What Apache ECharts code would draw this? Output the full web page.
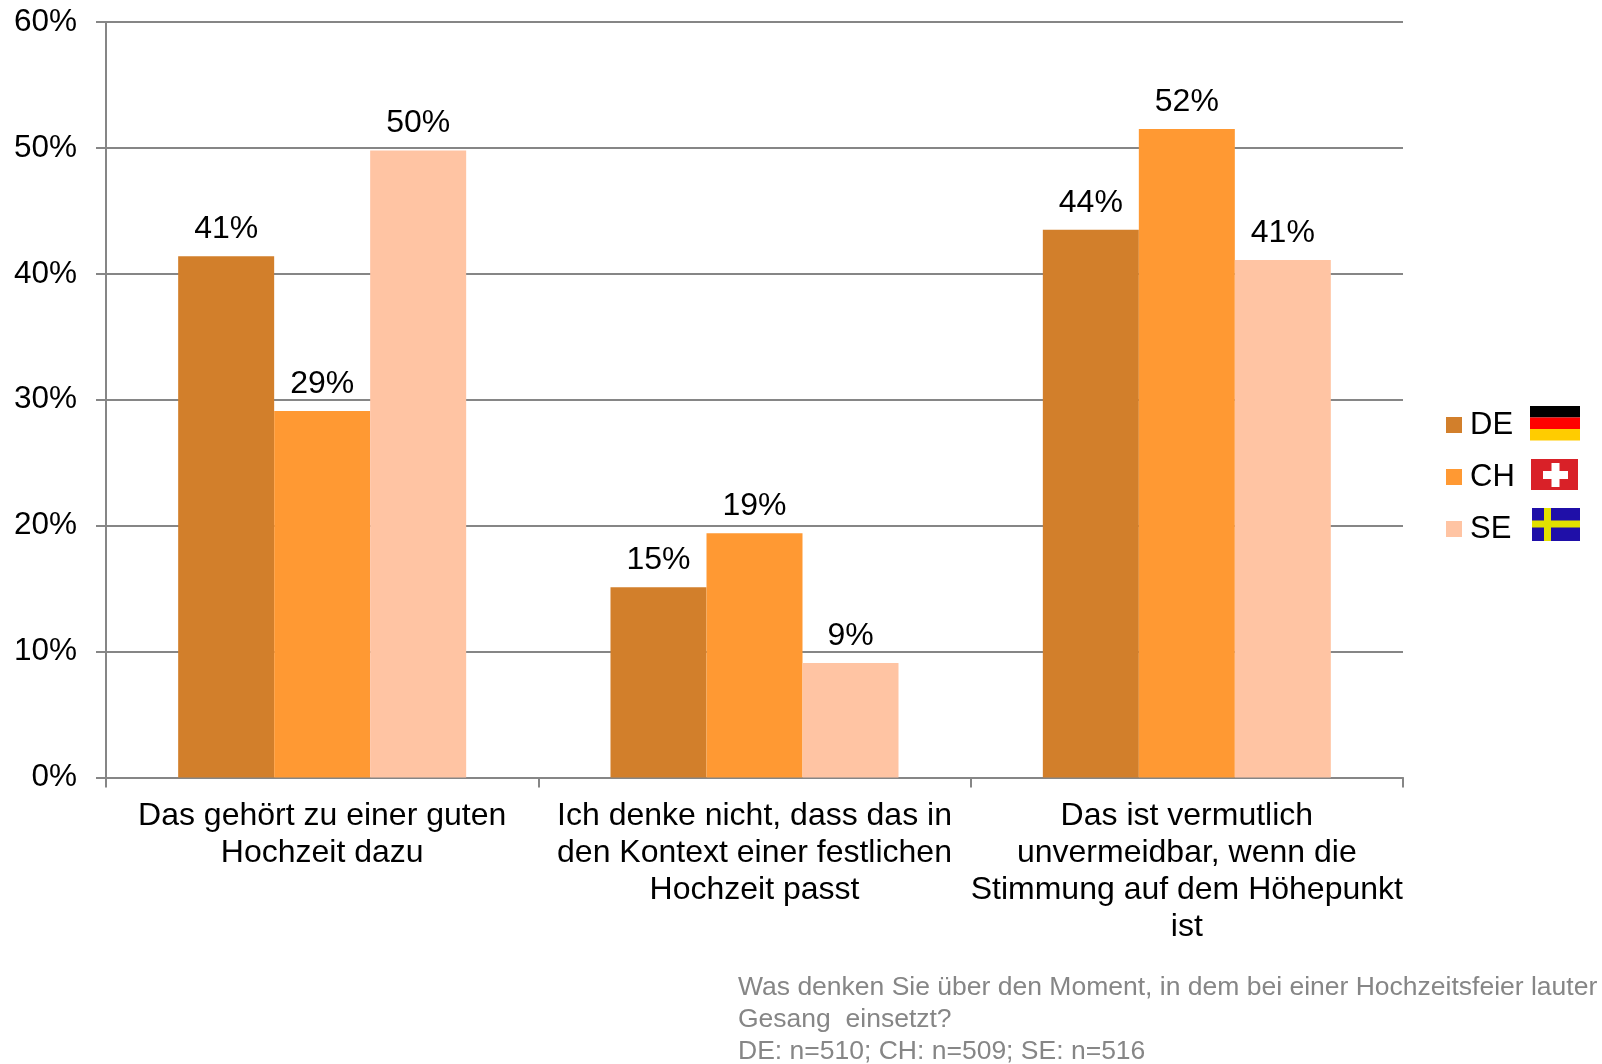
<!DOCTYPE html>
<html><head><meta charset="utf-8">
<style>html,body{margin:0;padding:0;background:#fff}#c{width:1602px;height:1064px}</style>
<script src="https://cdn.jsdelivr.net/npm/echarts@6/dist/echarts.min.js"></script>
</head><body><div id="c"></div>
<script>
const categories = [
  "Das gehört zu einer guten\nHochzeit dazu",
  "Ich denke nicht, dass das in\nden Kontext einer festlichen\nHochzeit passt",
  "Das ist vermutlich\nunvermeidbar, wenn die\nStimmung auf dem Höhepunkt\nist"
];
const seriesNames = ["DE", "CH", "SE"];
const de = [41.4, 15.1, 43.5];
const ch = [29.1, 19.4, 51.5];
const se = [49.8, 9.1, 41.1];
const colors = ["#D27F2B", "#FF9933", "#FFC4A3"];
const yTicks = { min: 0, max: 60, interval: 10 };
const footnote = "Was denken Sie über den Moment, in dem bei einer Hochzeitsfeier lauter\nGesang  einsetzt?\nDE: n=510; CH: n=509; SE: n=516";

const FONT = '"Liberation Sans", Arial, sans-serif';
const AXIS = '#868686';
const values = [de, ch, se];

function rect(x, y, w, h, fill) {
  return { type: 'rect', silent: true, shape: { x, y, width: w, height: h }, style: { fill } };
}
const flags = [
  rect(1530, 406, 50, 11.5, '#000000'),
  rect(1530, 417.5, 50, 11.5, '#FF0000'),
  rect(1530, 429, 50, 11.5, '#FFCC00'),
  rect(1531, 459, 47, 31, '#D92128'),
  rect(1543, 471, 25, 8, '#FFFFFF'),
  rect(1551.5, 463, 8, 24, '#FFFFFF'),
  rect(1532, 508, 48, 33, '#1F0FA8'),
  rect(1544, 508, 7, 33, '#E2E000'),
  rect(1532, 520.5, 48, 7, '#E2E000')
];

const chart = echarts.init(document.getElementById('c'), null, { renderer: 'canvas' });
chart.setOption({
  animation: false,
  backgroundColor: '#fff',
  grid: { left: 106, right: 199, top: 22, height: 755.5, containLabel: false },
  legend: {
    data: seriesNames,
    orient: 'vertical',
    left: 1441,
    top: 402.5,
    icon: 'rect',
    itemWidth: 16,
    itemHeight: 16,
    itemGap: 17,
    textStyle: { fontFamily: FONT, fontSize: 31, color: '#000', padding: [0, 0, 0, 3], lineHeight: 35 }
  },
  xAxis: {
    type: 'category',
    data: categories,
    axisLine: { lineStyle: { color: AXIS, width: 2 } },
    axisTick: { show: true, length: 10, alignWithLabel: false, lineStyle: { color: AXIS, width: 2 } },
    axisLabel: { interval: 0, margin: 20, color: '#000', fontFamily: FONT, fontSize: 32, lineHeight: 37, hideOverlap: false }
  },
  yAxis: {
    type: 'value',
    min: yTicks.min, max: yTicks.max, interval: yTicks.interval,
    axisLine: { show: true, lineStyle: { color: AXIS, width: 2 } },
    axisTick: { show: true, length: 10, lineStyle: { color: AXIS, width: 2 } },
    splitLine: { show: true, lineStyle: { color: AXIS, width: 2 } },
    axisLabel: { margin: 29, color: '#000', fontFamily: FONT, fontSize: 31.5, padding: [2, 0, 0, 0], formatter: '{value}%' }
  },
  series: seriesNames.map((name, i) => ({
    name,
    type: 'bar',
    data: values[i],
    barWidth: 96,
    barGap: '0%',
    itemStyle: { color: colors[i] },
    label: {
      show: true,
      position: 'top',
      distance: 11,
      color: '#000',
      fontFamily: FONT,
      fontSize: 32,
      formatter: p => Math.round(p.value) + '%'
    }
  })),
  graphic: [
    ...flags,
    { type: 'text', silent: true, left: 738, top: 972,
      style: { text: footnote, fontFamily: FONT, fontSize: 26.5, lineHeight: 32, fill: '#868686' } }
  ]
});
</script></body></html>
